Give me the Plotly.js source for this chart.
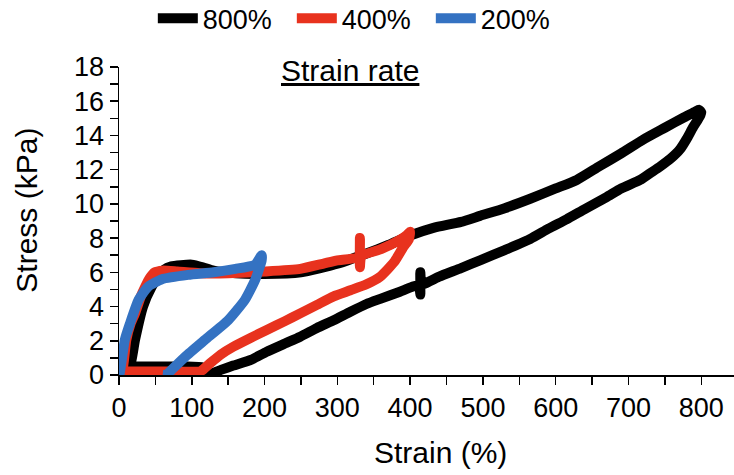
<!DOCTYPE html>
<html>
<head>
<meta charset="utf-8">
<script src="https://cdn.plot.ly/plotly-3.0.1.min.js"></script>
<style>html,body{margin:0;padding:0;background:#fff;}#chart{width:734px;height:475px;}</style>
</head>
<body>
<div id="chart"></div>
<script>
// Strain rate 800% loop (loading then unloading)
const strain800 = [0, 8, 15, 22, 33, 45, 54, 62, 72, 85, 100, 115, 130, 160, 200, 250, 300, 340, 370, 400, 432, 470, 496, 530, 565, 600, 629, 660, 690, 720, 750, 776, 790, 797, 800,
  799, 795, 789, 780, 771, 758, 744, 730, 716, 690, 670, 640, 615, 590, 565, 530, 496, 470, 440, 416, 414, 414, 412, 386, 359, 340, 318, 295, 272, 249, 228, 203, 182, 157, 140, 128, 120, 114, 90, 60, 35, 15];
const stress800 = [0, 0.3, 0.5, 2.05, 4.0, 5.16, 5.75, 6.15, 6.35, 6.42, 6.45, 6.3, 6.1, 5.95, 5.9, 6.0, 6.5, 7.1, 7.6, 8.15, 8.6, 8.95, 9.3, 9.75, 10.3, 10.9, 11.4, 12.2, 12.95, 13.75, 14.45, 15.05, 15.35, 15.5, 15.35,
  15.2, 14.9, 14.5, 13.8, 13.2, 12.65, 12.2, 11.8, 11.4, 10.9, 10.4, 9.7, 9.1, 8.55, 7.95, 7.3, 6.7, 6.25, 5.75, 5.3, 6.0, 4.7, 5.25, 4.87, 4.45, 4.15, 3.7, 3.2, 2.75, 2.24, 1.84, 1.36, 0.9, 0.55, 0.3, 0.1, 0.05, 0.45, 0.5, 0.5, 0.5, 0.5];

// Strain rate 400% loop
const strain400 = [0, 4, 10, 16, 22, 30, 36, 42, 49, 60, 80, 111, 150, 200, 249, 280, 300, 329, 331, 331, 333, 360, 386, 396, 400,
  398, 391, 378, 359, 340, 318, 295, 272, 249, 228, 203, 180, 157, 140, 125, 115, 111, 80, 40, 0];
const stress400 = [0, 0.1, 2.05, 3.0, 3.6, 4.6, 5.16, 5.65, 6.0, 6.1, 6.05, 5.95, 5.95, 6.05, 6.2, 6.5, 6.7, 6.9, 8.0, 6.3, 6.95, 7.35, 7.9, 8.2, 8.38,
  7.9, 7.5, 6.6, 5.75, 5.3, 4.95, 4.6, 4.1, 3.6, 3.15, 2.63, 2.15, 1.65, 1.2, 0.68, 0.3, 0.2, 0.2, 0.2, 0.2];

// Strain rate 200% loop
const strain200 = [0, 1, 8, 15, 27, 40, 59, 95, 130, 160, 187, 196,
  196, 187, 173, 150, 118, 91, 72, 65, 60];
const stress200 = [0, 0.1, 2.05, 3.0, 4.4, 5.16, 5.6, 5.85, 6.0, 6.2, 6.45, 7.0,
  6.7, 5.55, 4.39, 3.2, 2.05, 1.07, 0.29, 0, 0];

const seriesNames = ['800%', '400%', '200%'];
const seriesColors = ['#000000', '#e8321e', '#3472c2'];

const xTickVals = [0, 100, 200, 300, 400, 500, 600, 700, 800];
const yTickVals = [0, 2, 4, 6, 8, 10, 12, 14, 16, 18];

const xs = [strain800, strain400, strain200];
const ys = [stress800, stress400, stress200];

const traces = xs.map((x, i) => ({
  type: 'scatter', mode: 'lines', x: x, y: ys[i], name: seriesNames[i],
  line: {color: seriesColors[i], width: 10, shape: 'spline', smoothing: 0.5}
}));

const fam = '"Liberation Sans", Arial, sans-serif';
const tickFont = {family: fam, size: 27, color: '#000'};

const layout = {
  width: 734, height: 475,
  margin: {l: 119, r: 0, t: 67, b: 100, autoexpand: false},
  paper_bgcolor: '#fff', plot_bgcolor: '#fff',
  showlegend: true,
  legend: {orientation: 'h', x: 0.055, xanchor: 'left', y: 1.157, yanchor: 'middle',
    font: {family: fam, size: 27, color: '#000'},
    itemwidth: 40, entrywidth: 84, entrywidthmode: 'pixels', tracegroupgap: 0, bgcolor: 'rgba(0,0,0,0)'},
  xaxis: {range: [0, 845], tickvals: xTickVals, ticktext: xTickVals.map(String),
    showgrid: false, zeroline: false, showline: true, linecolor: '#000', linewidth: 1.5,
    ticks: 'outside', ticklen: 8, tickwidth: 1.5, tickcolor: '#000', tickfont: tickFont,
    minor: {dtick: 50, ticks: 'outside', ticklen: 8, tickwidth: 1.5, tickcolor: '#000', showgrid: false},
    fixedrange: true},
  yaxis: {range: [0, 18], tickvals: yTickVals, ticktext: yTickVals.map(String),
    showgrid: false, zeroline: false, showline: true, linecolor: '#000', linewidth: 1.5,
    ticks: 'outside', ticklen: 8, tickwidth: 1.5, tickcolor: '#000', tickfont: tickFont,
    minor: {dtick: 1, ticks: 'outside', ticklen: 8, tickwidth: 1.5, tickcolor: '#000', showgrid: false},
    fixedrange: true},
  annotations: [
    {text: '<u>Strain rate</u>', xref: 'paper', yref: 'paper', x: 0.3756, y: 0.99, xanchor: 'center', yanchor: 'middle',
      showarrow: false, font: {family: fam, size: 30, color: '#000'}},
    {text: 'Strain (%)', xref: 'paper', yref: 'paper', x: 0.522, y: -0.25, xanchor: 'center', yanchor: 'middle',
      showarrow: false, font: {family: fam, size: 30, color: '#000'}},
    {text: 'Stress (kPa)', xref: 'paper', yref: 'paper', x: -0.15, y: 0.536, xanchor: 'center', yanchor: 'middle', textangle: -90,
      showarrow: false, font: {family: fam, size: 30, color: '#000'}}
  ]
};

Plotly.newPlot('chart', traces, layout, {staticPlot: true, displayModeBar: false});
</script>
</body>
</html>
